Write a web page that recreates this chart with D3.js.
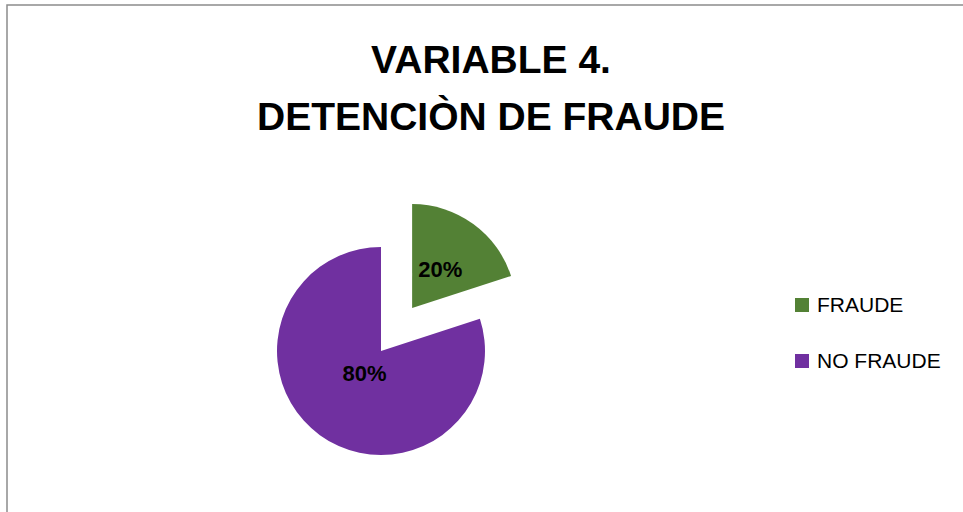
<!DOCTYPE html>
<html>
<head>
<meta charset="utf-8">
<script src="https://cdn.jsdelivr.net/npm/d3@7"></script>
<style>
  body { margin: 0; background: #fff; }
  svg { display: block; }
</style>
</head>
<body>
<div id="chart"></div>
<script>
// pie data
const categories = ['FRAUDE', 'NO FRAUDE'];
const values = [20, 80];
const colors = ['#538135', '#7030A0'];
const titleLines = ['VARIABLE 4.', 'DETENCIÒN DE FRAUDE'];

const width = 963, height = 512;
const svg = d3.select('#chart').append('svg')
    .attr('width', width)
    .attr('height', height);

// chart area border (only top/left visible)
svg.append('rect')
    .attr('x', 7)
    .attr('y', 5)
    .attr('width', 1000)
    .attr('height', 600)
    .attr('fill', '#fff')
    .attr('stroke', '#8c8c8c')
    .attr('stroke-width', 1.5);

// title
svg.append('text')
    .attr('text-anchor', 'middle')
    .attr('font-family', '"Liberation Sans", Arial, sans-serif')
    .attr('font-weight', 'bold')
    .attr('font-size', '39px')
    .attr('fill', '#000')
    .selectAll('tspan')
    .data(titleLines)
    .join('tspan')
    .attr('x', 491)
    .attr('y', (d, i) => 73 + i * 57)
    .text(d => d);

// pie
const cx = 381, cy = 351, radius = 104, explode = 53;
const pie = d3.pie().sort(null).value(d => d)(values);
const arc = d3.arc().innerRadius(0).outerRadius(radius);
const labelR = [48, 28];

const g = svg.append('g').attr('transform', `translate(${cx},${cy})`);

const slices = g.selectAll('g.slice')
    .data(pie)
    .join('g')
    .attr('class', 'slice')
    .attr('transform', (d, i) => {
        if (i !== 0) return null;
        const a = (d.startAngle + d.endAngle) / 2;
        return `translate(${Math.sin(a) * explode},${-Math.cos(a) * explode})`;
    });

slices.append('path')
    .attr('d', arc)
    .attr('fill', (d, i) => colors[i]);

slices.append('text')
    .attr('transform', (d, i) => {
        const c = d3.arc().innerRadius(labelR[i]).outerRadius(labelR[i]).centroid(d);
        return `translate(${c[0]},${c[1]})`;
    })
    .attr('text-anchor', 'middle')
    .attr('dy', '0.35em')
    .attr('font-family', '"Liberation Sans", Arial, sans-serif')
    .attr('font-weight', 'bold')
    .attr('font-size', '22px')
    .attr('fill', '#000')
    .text(d => Math.round(d.data / d3.sum(values) * 100) + '%');

// legend
const legend = svg.append('g')
    .selectAll('g')
    .data(categories)
    .join('g')
    .attr('transform', (d, i) => `translate(795,${298 + i * 56})`);

legend.append('rect')
    .attr('width', 14)
    .attr('height', 14)
    .attr('fill', (d, i) => colors[i]);

legend.append('text')
    .attr('x', 22)
    .attr('y', 7)
    .attr('dy', '0.35em')
    .attr('font-family', '"Liberation Sans", Arial, sans-serif')
    .attr('font-size', '21px')
    .attr('fill', '#000')
    .text(d => d);
</script>
</body>
</html>
